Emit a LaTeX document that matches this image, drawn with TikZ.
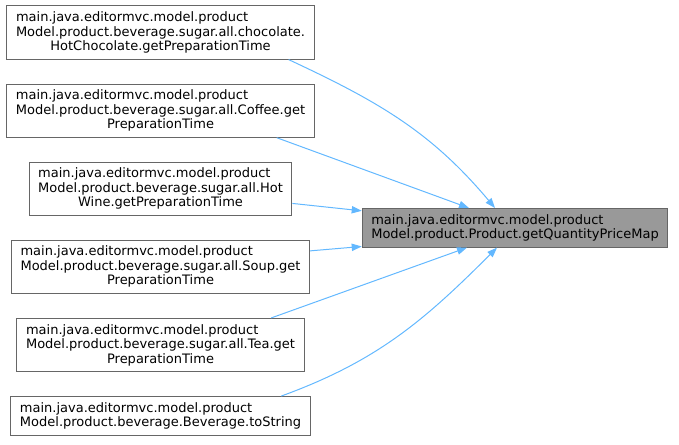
\documentclass[tikz,border=0pt]{standalone}
\usepackage{fontspec}
\setmainfont{DejaVu Sans}
\usetikzlibrary{arrows.meta, positioning, calc}
\definecolor{cEdge}{HTML}{63B8FF}
\definecolor{cBorder}{HTML}{666666}
\definecolor{cFocus}{HTML}{999999}
\tikzset{
	fn/.style   ={rectangle, draw=cBorder, line width=0.75pt, fill=white, align=left, inner xsep=6.8pt, inner ysep=4.3pt, font=\fontsize{9.75pt}{10.9pt}\selectfont},
	focus/.style={fn, fill=cFocus},
	call/.style ={-{Triangle[length=7.5pt, width=5.5pt]}, draw=cEdge, line width=0.75pt},
}
\begin{document}
\begin{tikzpicture}[node distance=18pt]
			\useasboundingbox (0,0) rectangle (509.25pt,-333.75pt);
			% callers, one column
			\node[fn] (choc) at (120.4pt,-24.4pt) {main.java.editormvc.model.product\\ Model.product.beverage.sugar.all.chocolate.\\ \hfil HotChocolate.getPreparationTime};
			\node[fn, below=of choc] (coffee) {main.java.editormvc.model.product\\ Model.product.beverage.sugar.all.Coffee.get\\ \hfil PreparationTime};
			\node[fn, below=of coffee] (wine) {main.java.editormvc.model.product\\ Model.product.beverage.sugar.all.Hot\\ \hfil Wine.getPreparationTime};
			\node[fn, below=of wine] (soup) {main.java.editormvc.model.product\\ Model.product.beverage.sugar.all.Soup.get\\ \hfil PreparationTime};
			\node[fn, below=of soup] (tea) {main.java.editormvc.model.product\\ Model.product.beverage.sugar.all.Tea.get\\ \hfil PreparationTime};
			\node[fn, below=of tea] (bev) {main.java.editormvc.model.product\\ Model.product.beverage.Beverage.toString};
			% called function
			\coordinate (mid) at ($(wine.south)!0.5!(soup.north)$);
			\node[focus, anchor=west] (qpm) at ([xshift=35.25pt]mid -| coffee.east) {main.java.editormvc.model.product\\ Model.product.Product.getQuantityPriceMap};
			\draw[call] ([xshift=-19.5pt]choc.south east) to[out=-25, in=130] ([xshift=-15pt]qpm.north);
			\draw[call] ([xshift=-28.5pt]coffee.south east) -- ([xshift=-34.5pt]qpm.north);
			\draw[call] ([yshift=-11pt]wine.east) -- ([yshift=12.75pt]qpm.west);
			\draw[call] ([yshift=12pt]soup.east) -- ([yshift=-14pt]qpm.west);
			\draw[call] ([xshift=-25pt]tea.north east) -- ([xshift=-36pt]qpm.south);
			\draw[call] ([xshift=-22pt]bev.north east) to[out=20, in=-135] ([xshift=-13.5pt]qpm.south);
		\end{tikzpicture}
\end{document}
